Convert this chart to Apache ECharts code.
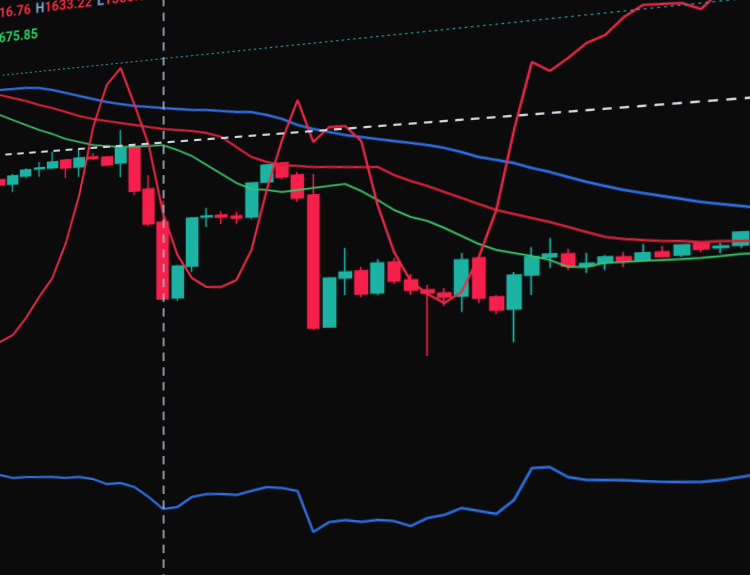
<!DOCTYPE html>
<html>
<head>
<meta charset="utf-8">
<script src="https://cdn.jsdelivr.net/npm/echarts@6/dist/echarts.min.js"></script>
<style>
html,body{margin:0;padding:0;width:750px;height:575px;overflow:hidden;background:#0b0b0c;}
#chart{position:absolute;left:-110px;top:-60px;width:800px;height:680px;
  transform-origin:110px 440px;transform:perspective(1373.5px) rotateY(-25deg);}
</style>
</head>
<body>
<div id="chart"></div>
<script>
const categories = ['10:00','10:15','10:30','10:45','11:00','11:15','11:30','11:45','12:00','12:15','12:30','12:45',
  '13:00','13:15','13:30','13:45','14:00','14:15','14:30','14:45','15:00','15:15','15:30','15:45',
  '16:00','16:15','16:30','16:45','17:00','17:15','17:30','17:45','18:00','18:15','18:30','18:45',
  '19:00','19:15','19:30','19:45','20:00','20:15','20:30','20:45','21:00','21:15','21:30','21:45'];

const candleOpen  = [1657.6,1653.6,1659.4,1664.3,1664.3,1669.9,1663.6,1670.7,1669.9,1664.4,1676.1,1642.8,1616.76,1558.1,1582.1,1618.9,1619.8,1618.5,1617.2,1642.6,1656.0,1646.4,1631.0,1534.0,1569.4,1574.1,1557.9,1579.7,1566.5,1559.1,1556.6,1554.2,1580.4,1552.9,1544.3,1567.5,1579.4,1581.0,1572.4,1574.1,1577.7,1575.2,1580.1,1577.7,1584.8,1581.7,1582.8];
const candleClose = [1653.5,1660.1,1664.2,1665.1,1669.1,1663.6,1670.7,1669.5,1663.6,1676.9,1641.9,1615.8,1557.6,1582.5,1618.7,1619.6,1618.3,1617.0,1642.6,1655.3,1645.6,1629.4,1533.4,1569.7,1573.7,1557.5,1579.4,1566.2,1559.4,1556.9,1553.8,1579.5,1552.5,1543.9,1567.8,1579.8,1581.4,1572.8,1574.1,1578.1,1575.0,1579.9,1577.1,1584.3,1581.2,1582.6,1591.2];
const candleLow   = [1651.9,1647.2,1657.8,1657.9,1663.5,1655.6,1655.7,1668.3,1662.9,1653.5,1638.8,1614.2,1556.8,1555.8,1577.6,1611.3,1613.0,1612.5,1615.7,1641.9,1644.1,1626.5,1532.0,1533.3,1557.0,1555.3,1556.4,1564.0,1555.8,1512.3,1547.5,1543.0,1549.0,1541.1,1521.5,1553.7,1571.9,1570.1,1567.7,1569.3,1571.0,1573.9,1576.1,1576.3,1579.2,1578.1,1580.9];
const candleHigh  = [1659.2,1661.7,1665.8,1669.9,1677.1,1670.7,1677.8,1673.8,1670.7,1690.2,1676.9,1653.6,1633.22,1583.3,1619.5,1625.7,1622.8,1621.5,1643.3,1656.0,1656.7,1648.6,1646.4,1570.5,1591.2,1577.0,1582.3,1582.6,1570.8,1562.6,1560.2,1584.4,1581.1,1554.3,1569.9,1586.7,1592.4,1584.4,1581.2,1579.4,1581.0,1585.9,1584.1,1584.9,1585.7,1584.6,1591.9];

const maGreen = [1710.3,1705.3,1700.4,1695.5,1691.4,1686.6,1683.3,1680.1,1678.5,1676.9,1676.4,1676.0,1675.85,1671.3,1665.9,1658.3,1650.8,1643.3,1638.1,1636.7,1634.5,1635.3,1636.1,1636.9,1637.7,1631.9,1624.8,1617.0,1611.4,1608.0,1602.5,1596.3,1590.2,1585.6,1583.0,1580.5,1577.4,1572.2,1571.8,1574.1,1574.3,1574.6,1574.8,1575.0,1575.3,1576.1,1577.0,1577.2];
const maRed   = [1726.5,1723.1,1719.7,1715.5,1712.1,1708.0,1703.9,1700.6,1698.1,1695.6,1693.2,1690.7,1688.3,1686.6,1685.0,1682.6,1678.7,1670.3,1662.0,1657.5,1654.5,1653.0,1651.5,1650.8,1650.0,1649.2,1648.5,1642.0,1637.0,1632.8,1627.8,1623.0,1618.1,1613.3,1610.0,1606.6,1603.3,1599.4,1595.4,1591.6,1589.7,1588.5,1587.4,1586.9,1585.7,1585.9,1585.4,1585.6];
const maBlue  = [1730.6,1730.4,1730.2,1729.1,1726.5,1723.1,1719.7,1716.3,1713.0,1710.4,1707.9,1706.2,1704.4,1702.7,1701.0,1700.0,1698.3,1696.6,1695.6,1692.5,1688.6,1683.2,1679.4,1676.3,1673.2,1670.9,1668.6,1666.3,1664.1,1661.8,1658.9,1655.2,1650.9,1648.1,1645.2,1641.0,1637.5,1633.4,1629.3,1625.9,1622.5,1619.8,1617.2,1614.6,1612.0,1610.0,1608.1,1606.2];
const oscLine = [1526.1,1531.7,1545.2,1561.8,1576.6,1604.0,1641.5,1693.5,1726.3,1738.5,1708.7,1676.8,1623.7,1591.0,1573.0,1565.8,1565.5,1570.4,1592.5,1636.7,1673.0,1701.6,1669.8,1679.9,1679.8,1668.0,1621.2,1586.9,1565.8,1556.2,1549.6,1557.0,1581.1,1613.3,1668.0,1713.9,1706.6,1714.3,1723.3,1727.5,1738.3,1745.1,1744.4,1743.7,1738.4,1749.5,1754.6,1756.4];
const subLine = [60.0,58.7,59.4,59.6,59.9,59.6,60.3,59.5,57.3,58.0,56.3,51.8,46.4,47.6,52.6,54.2,54.5,54.3,56.4,58.4,58.2,57.1,38.8,43.6,44.8,44.3,45.5,45.3,43.4,47.2,48.9,52.2,51.2,50.2,56.4,70.2,70.8,66.8,65.8,66.0,66.2,66.0,65.9,66.1,66.3,67.3,68.8,70.2];

const priceLevel = 1677.86;
const dottedLevel = 1742.76;
const crosshairIndex = 12;
const ohlcText = ['O','1616.76','H','1633.22','L','1556.80','C','1557.61'];
const maText = ['MA(7): ','1675.85'];

const candles = candleOpen.map((o, i) => [o, candleClose[i], candleLow[i], candleHigh[i]]);

const chart = echarts.init(document.getElementById('chart'), null, {renderer: 'canvas', devicePixelRatio: 2});
const UP = '#1db3a3', DOWN = '#f71f4c';
chart.setOption({
  animation: false,
  backgroundColor: '#0b0b0c',
  title: [
    {
      left: 84, top: 65, padding: 0,
      text: `{k|${ohlcText[0]}}{v|${ohlcText[1]}} {k|${ohlcText[2]}}{v|${ohlcText[3]}} {k|${ohlcText[4]}}{v|${ohlcText[5]}} {k|${ohlcText[6]}}{v|${ohlcText[7]}}`,
      textStyle: {
        rich: {
          k: {color: '#7fa8de', fontSize: 13.5, fontWeight: 'bold', fontFamily: 'Roboto'},
          v: {color: '#f02a44', fontSize: 13.5, fontWeight: 'bold', fontFamily: 'Roboto'}
        }
      }
    },
    {
      left: 55.5, top: 92, padding: 0,
      text: maText.join(''),
      textStyle: {color: '#2bcf63', fontSize: 13.5, fontWeight: 'bold', fontFamily: 'Roboto'}
    }
  ],
  grid: {left: 102.9, right: 15.4, top: 20, bottom: 20},
  xAxis: {type: 'category', data: categories, show: false, boundaryGap: true},
  yAxis: [
    {type: 'value', min: 1316.8, max: 1836.07, show: false},
    {type: 'value', min: -2.5, max: 317.5, show: false}
  ],
  series: [
    {
      type: 'line', data: maBlue, symbol: 'none', silent: true,
      lineStyle: {color: '#2f6fe6', width: 2.2}
    },
    {
      type: 'line', data: maRed, symbol: 'none', silent: true,
      lineStyle: {color: '#d9233b', width: 2}
    },
    {
      type: 'line', data: maGreen, symbol: 'none', silent: true,
      lineStyle: {color: '#3dc46a', width: 1.6}
    },
    {
      type: 'candlestick', data: candles, barWidth: '80%', silent: true,
      itemStyle: {color: UP, color0: DOWN, borderColor: UP, borderColor0: DOWN, borderWidth: 1.4},
      markLine: {
        silent: true, symbol: 'none', animation: false,
        label: {show: false},
        data: [
          {yAxis: priceLevel, lineStyle: {color: '#cdd5de', width: 2, type: [7, 6]}},
          {yAxis: dottedLevel, lineStyle: {color: '#2aa3ad', width: 1, type: [2, 3]}},
          {xAxis: categories[crosshairIndex], lineStyle: {color: '#a3b6c6', width: 1.6, type: [8, 6]}}
        ]
      }
    },
    {
      type: 'line', data: oscLine, symbol: 'none', silent: true,
      lineStyle: {color: '#ee2a48', width: 2}
    },
    {
      type: 'line', data: subLine, yAxisIndex: 1, symbol: 'none', silent: true,
      lineStyle: {color: '#2e6fe2', width: 2.2}
    }
  ]
});
</script>
</body>
</html>
